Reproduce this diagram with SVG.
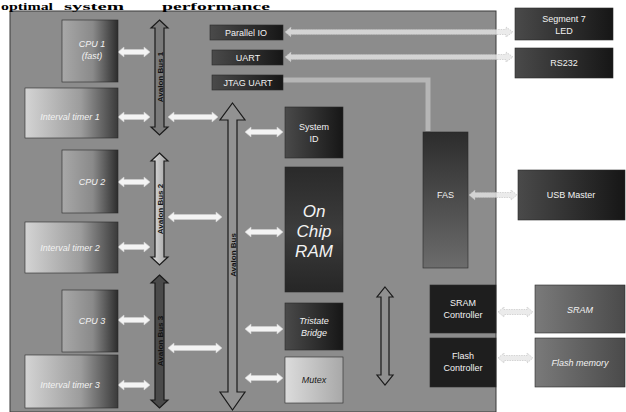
<svg xmlns="http://www.w3.org/2000/svg" width="626" height="412" viewBox="0 0 626 412">
<style>
.lbl{font-family:"Liberation Sans",Arial,sans-serif;font-size:9px;fill:#f2f2f2;text-anchor:middle}
.dk{fill:#1a1a1a}
.it{font-style:italic}
.ttl{font-family:"Liberation Serif","Times New Roman",serif;font-size:11px;font-weight:bold;fill:#000}
.bus{fill:#7a7a7a;stroke:#1a1a1a;stroke-width:1.2}
.busl{font-family:"Liberation Sans",Arial,sans-serif;font-size:8px;font-weight:bold;fill:#111;text-anchor:middle}
.wa{fill:#f4f4f4;stroke:#d0d0d0;stroke-width:0.6}
.la{fill:#e6e6e6;fill-opacity:0.8;stroke:#bdbdbd;stroke-width:0.6;stroke-dasharray:1.5 1}
.box{stroke:#2a2a2a;stroke-width:0.6}
</style>
<defs>
<linearGradient id="gCpu" x1="0" y1="0" x2="1" y2="0"><stop offset="0" stop-color="#a8a8a8"/><stop offset="0.55" stop-color="#8a8a8a"/><stop offset="1" stop-color="#2c2c2c"/></linearGradient>
<linearGradient id="gTim" x1="0" y1="0" x2="1" y2="0"><stop offset="0" stop-color="#d4d4d4"/><stop offset="0.6" stop-color="#9c9c9c"/><stop offset="1" stop-color="#3a3a3a"/></linearGradient>
<linearGradient id="gDark" x1="0" y1="0" x2="1" y2="0"><stop offset="0" stop-color="#4a4a4a"/><stop offset="1" stop-color="#161616"/></linearGradient>
<linearGradient id="gRam" x1="0" y1="0" x2="0" y2="1"><stop offset="0" stop-color="#2a2a2a"/><stop offset="0.5" stop-color="#3c3c3c"/><stop offset="1" stop-color="#262626"/></linearGradient>
<linearGradient id="gFas" x1="0" y1="0" x2="0" y2="1"><stop offset="0" stop-color="#2c2c2c"/><stop offset="1" stop-color="#6c6c6c"/></linearGradient>
<linearGradient id="gMem" x1="0" y1="0" x2="1" y2="0"><stop offset="0" stop-color="#7a7a7a"/><stop offset="1" stop-color="#4a4a4a"/></linearGradient>
<linearGradient id="gMux" x1="0" y1="0" x2="1" y2="0"><stop offset="0" stop-color="#dcdcdc"/><stop offset="1" stop-color="#a8a8a8"/></linearGradient>
<linearGradient id="gBus2" x1="0" y1="0" x2="1" y2="0"><stop offset="0" stop-color="#e0e0e0"/><stop offset="1" stop-color="#a0a0a0"/></linearGradient>
</defs>
<rect width="626" height="412" fill="#ffffff"/>
<rect x="10" y="11" width="486" height="401" fill="#8c8c8c" stroke="#3a3a3a" stroke-width="1"/>
<text class="ttl" x="1" y="9.5" textLength="52" lengthAdjust="spacingAndGlyphs">optimal</text>
<text class="ttl" x="64" y="9.5" textLength="60" lengthAdjust="spacingAndGlyphs">system</text>
<text class="ttl" x="162" y="9.5" textLength="108" lengthAdjust="spacingAndGlyphs">performance</text>

<g id="connectors">
<path d="M283 80 H428 V131" fill="none" stroke="#d8d8d8" stroke-opacity="0.55" stroke-width="5"/>
<path class="bus" d="M159.5 20 L168 28 L164 28 L164 127 L168 127 L159.5 135 L151 127 L155 127 L155 28 L151 28 Z"/>
<path class="bus" style="fill:url(#gBus2)" d="M159.5 153 L168 161 L164 161 L164 257 L168 257 L159.5 265 L151 257 L155 257 L155 161 L151 161 Z"/>
<path class="bus" style="fill:#4a4a4a" d="M159.5 275 L168 283 L164 283 L164 400 L168 400 L159.5 408 L151 400 L155 400 L155 283 L151 283 Z"/>
<path class="bus" style="fill:#929292" d="M232.5 103 L245 120 L237 120 L237 392 L245 392 L232.5 410 L220 392 L228 392 L228 120 L220 120 Z"/>
<path class="bus" style="fill:#909090" d="M385 287 L393 297 L389 297 L389 375 L393 375 L385 385 L377 375 L381 375 L381 297 L377 297 Z"/>
<path class="wa" d="M118 52 L124 47 L124 49.5 L144 49.5 L144 47 L150 52 L144 57 L144 54.5 L124 54.5 L124 57 Z"/>
<path class="wa" d="M118 117 L124 112 L124 114.5 L144 114.5 L144 112 L150 117 L144 122 L144 119.5 L124 119.5 L124 122 Z"/>
<path class="wa" d="M118 182 L124 177 L124 179.5 L144 179.5 L144 177 L150 182 L144 187 L144 184.5 L124 184.5 L124 187 Z"/>
<path class="wa" d="M118 247 L124 242 L124 244.5 L144 244.5 L144 242 L150 247 L144 252 L144 249.5 L124 249.5 L124 252 Z"/>
<path class="wa" d="M118 320 L124 315 L124 317.5 L144 317.5 L144 315 L150 320 L144 325 L144 322.5 L124 322.5 L124 325 Z"/>
<path class="wa" d="M118 385 L124 380 L124 382.5 L144 382.5 L144 380 L150 385 L144 390 L144 387.5 L124 387.5 L124 390 Z"/>
<path class="wa" d="M168 117 L174 112 L174 114.5 L212 114.5 L212 112 L218 117 L212 122 L212 119.5 L174 119.5 L174 122 Z"/>
<path class="wa" d="M168 217 L174 212 L174 214.5 L216 214.5 L216 212 L222 217 L216 222 L216 219.5 L174 219.5 L174 222 Z"/>
<path class="wa" d="M168 348 L174 343 L174 345.5 L216 345.5 L216 343 L222 348 L216 353 L216 350.5 L174 350.5 L174 353 Z"/>
<path class="wa" d="M245 132 L251 127 L251 129.5 L277 129.5 L277 127 L283 132 L277 137 L277 134.5 L251 134.5 L251 137 Z"/>
<path class="wa" d="M245 232 L251 227 L251 229.5 L277 229.5 L277 227 L283 232 L277 237 L277 234.5 L251 234.5 L251 237 Z"/>
<path class="wa" d="M245 329 L251 324 L251 326.5 L277 326.5 L277 324 L283 329 L277 334 L277 331.5 L251 331.5 L251 334 Z"/>
<path class="wa" d="M245 378 L251 373 L251 375.5 L277 375.5 L277 373 L283 378 L277 383 L277 380.5 L251 380.5 L251 383 Z"/>
<path class="la" d="M285 32 L291 27 L291 29.5 L506 29.5 L506 27 L513 32 L506 37 L506 34.5 L291 34.5 L291 37 Z"/>
<path class="la" d="M285 57 L291 52 L291 54.5 L506 54.5 L506 52 L513 57 L506 62 L506 59.5 L291 59.5 L291 62 Z"/>
<path class="la" d="M469 195 L475 190 L475 192.5 L511 192.5 L511 190 L517 195 L511 200 L511 197.5 L475 197.5 L475 200 Z"/>
<path class="la" d="M498 312 L504 307 L504 309.5 L527 309.5 L527 307 L533 312 L527 317 L527 314.5 L504 314.5 L504 317 Z"/>
<path class="la" d="M498 358 L504 353 L504 355.5 L527 355.5 L527 353 L533 358 L527 363 L527 360.5 L504 360.5 L504 363 Z"/>
<text class="busl" transform="translate(162.5 77) rotate(-90)">Avalon Bus 1</text>
<text class="busl" transform="translate(162.5 209) rotate(-90)">Avalon Bus 2</text>
<text class="busl" transform="translate(162.5 341) rotate(-90)">Avalon Bus 3</text>
<text class="busl" transform="translate(235.5 255) rotate(-90)">Avalon Bus</text>
</g>

<g id="cpu1"><rect class="box" x="62" y="20" width="56" height="62" fill="url(#gCpu)"/><text class="lbl it" x="92" y="47">CPU 1</text><text class="lbl it" x="92" y="59">(fast)</text></g>
<g id="timer1"><rect class="box" x="25" y="88" width="93" height="50" fill="url(#gTim)"/><text class="lbl it" x="70" y="120">Interval timer 1</text></g>
<g id="cpu2"><rect class="box" x="62" y="150" width="56" height="63" fill="url(#gCpu)"/><text class="lbl it" x="92" y="185">CPU 2</text></g>
<g id="timer2"><rect class="box" x="25" y="222" width="93" height="51" fill="url(#gTim)"/><text class="lbl it" x="70" y="251">Interval timer 2</text></g>
<g id="cpu3"><rect class="box" x="62" y="290" width="56" height="62" fill="url(#gCpu)"/><text class="lbl it" x="92" y="324">CPU 3</text></g>
<g id="timer3"><rect class="box" x="25" y="355" width="93" height="53" fill="url(#gTim)"/><text class="lbl it" x="70" y="388">Interval timer 3</text></g>

<g id="pio"><rect class="box" x="210" y="25" width="73" height="15" fill="url(#gDark)"/><text class="lbl" x="246" y="36">Parallel IO</text></g>
<g id="uart"><rect class="box" x="212" y="50" width="71" height="15" fill="url(#gDark)"/><text class="lbl" x="248" y="61">UART</text></g>
<g id="jtag"><rect class="box" x="212" y="75" width="71" height="15" fill="url(#gDark)"/><text class="lbl" x="248" y="86">JTAG UART</text></g>

<g id="sysid"><rect class="box" x="285" y="107" width="58" height="51" fill="url(#gDark)"/><text class="lbl" x="314" y="130">System</text><text class="lbl" x="314" y="142">ID</text></g>
<g id="ram"><rect class="box" x="285" y="167" width="58" height="125" fill="url(#gRam)"/><text class="lbl it" style="font-size:17px" x="314" y="217">On</text><text class="lbl it" style="font-size:17px" x="314" y="237">Chip</text><text class="lbl it" style="font-size:17px" x="314" y="257">RAM</text></g>
<g id="tristate"><rect class="box" x="285" y="303" width="58" height="47" fill="url(#gDark)"/><text class="lbl it" x="314" y="324">Tristate</text><text class="lbl it" x="314" y="336">Bridge</text></g>
<g id="mutex"><rect class="box" x="285" y="357" width="58" height="46" fill="url(#gMux)"/><text class="lbl it dk" x="314" y="383">Mutex</text></g>

<g id="fas"><rect class="box" x="423" y="132" width="45" height="136" fill="url(#gFas)"/><text class="lbl" x="445.5" y="198">FAS</text></g>
<g id="sramctl"><rect class="box" x="430" y="285" width="66" height="48" fill="#1e1e1e"/><text class="lbl" x="463" y="306">SRAM</text><text class="lbl" x="463" y="318">Controller</text></g>
<g id="flashctl"><rect class="box" x="430" y="338" width="66" height="49" fill="#1e1e1e"/><text class="lbl" x="463" y="359">Flash</text><text class="lbl" x="463" y="371">Controller</text></g>

<g id="seg7"><rect class="box" x="515" y="8" width="98" height="32" fill="url(#gDark)"/><text class="lbl" x="564" y="22">Segment 7</text><text class="lbl" x="564" y="34">LED</text></g>
<g id="rs232"><rect class="box" x="515" y="48" width="98" height="30" fill="url(#gDark)"/><text class="lbl" x="564" y="66">RS232</text></g>
<g id="usb"><rect class="box" x="518" y="170" width="107" height="50" fill="url(#gDark)"/><text class="lbl" x="571" y="198">USB Master</text></g>
<g id="sram"><rect class="box" x="535" y="285" width="90" height="48" fill="url(#gMem)"/><text class="lbl it" x="580" y="313">SRAM</text></g>
<g id="flash"><rect class="box" x="535" y="338" width="90" height="49" fill="url(#gMem)"/><text class="lbl it" x="580" y="366">Flash memory</text></g>
</svg>
